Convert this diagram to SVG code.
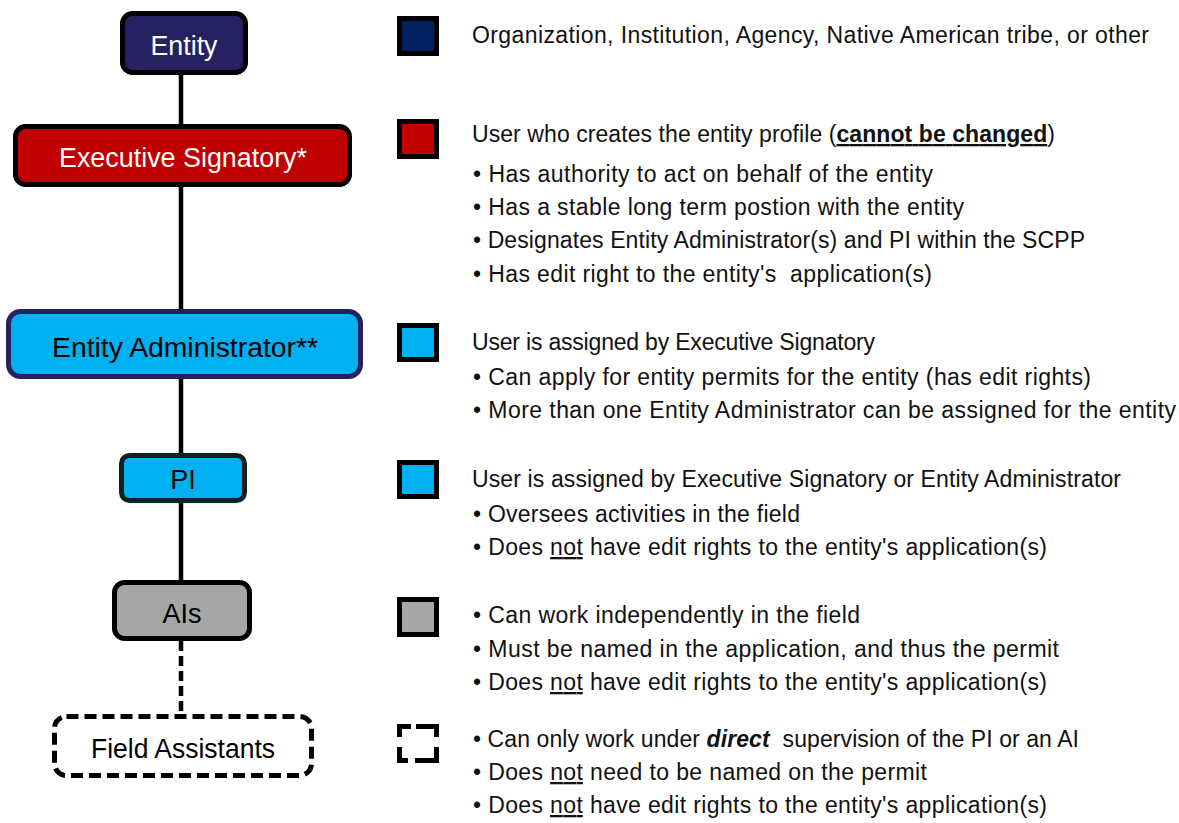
<svg xmlns="http://www.w3.org/2000/svg" width="1179" height="823" viewBox="0 0 1179 823">
<style>
.node{stroke-width:5}
.lbl{font-family:"Liberation Sans",Arial,sans-serif;font-size:27px;text-anchor:middle}
.t{font-family:"Liberation Sans",Arial,sans-serif;font-size:23px;fill:#111}
.u{text-decoration:underline}
.b{font-weight:bold}
.bi{font-weight:bold;font-style:italic}
.sq{stroke:#000;stroke-width:5}
.conn{stroke:#000;stroke-width:4.5;fill:none}
</style>
<rect width="1179" height="823" fill="#fff"/>
<g id="connectors">
<line class="conn" x1="181" y1="74" x2="181" y2="126"/>
<line class="conn" x1="181" y1="186" x2="181" y2="311"/>
<line class="conn" x1="181" y1="377" x2="181" y2="455"/>
<line class="conn" x1="181" y1="501" x2="181" y2="582"/>
<line class="conn" x1="181" y1="641" x2="181" y2="716" stroke="#0f2024" stroke-dasharray="10 5"/>
</g>
<g id="node-entity">
<rect class="node" x="122.5" y="13.5" width="123" height="59" rx="10" fill="#262262" stroke="#000"/>
<text class="lbl" x="184" y="55" fill="#fff" textLength="67" lengthAdjust="spacingAndGlyphs">Entity</text>
</g>
<g id="node-executive-signatory">
<rect class="node" x="15.5" y="126.5" width="334" height="58" rx="10" fill="#C00000" stroke="#000"/>
<text class="lbl" x="183" y="167" fill="#fff" textLength="248" lengthAdjust="spacingAndGlyphs">Executive Signatory*</text>
</g>
<g id="node-entity-administrator">
<rect class="node" x="8.5" y="311.5" width="352" height="65" rx="12" fill="#00B0F0" stroke="#262262"/>
<text class="lbl" x="185" y="357" fill="#000" textLength="266" lengthAdjust="spacingAndGlyphs">Entity Administrator**</text>
</g>
<g id="node-pi">
<rect class="node" x="121.5" y="455.5" width="123" height="45" rx="8" fill="#00B0F0" stroke="#102025"/>
<text class="lbl" x="183" y="489" fill="#000">PI</text>
</g>
<g id="node-ais">
<rect class="node" x="114.5" y="582.5" width="135" height="56" rx="10" fill="#A6A6A6" stroke="#000"/>
<text class="lbl" x="182" y="623" fill="#000">AIs</text>
</g>
<g id="node-field-assistants">
<rect class="node" x="54.5" y="716.5" width="257" height="59" rx="12" fill="#fff" stroke="#000" stroke-dasharray="12 6"/>
<text class="lbl" x="183" y="758" fill="#000" textLength="184" lengthAdjust="spacingAndGlyphs">Field Assistants</text>
</g>
<g id="legend">
<rect class="sq" x="399.5" y="18.5" width="37" height="35" fill="#002060"/>
<rect class="sq" x="399.5" y="121.5" width="37" height="35" fill="#C00000"/>
<rect class="sq" x="399.5" y="325.5" width="37" height="34" fill="#00B0F0"/>
<rect class="sq" x="399.5" y="462.5" width="37" height="34" fill="#00B0F0"/>
<rect class="sq" x="399.5" y="599.5" width="37" height="35" fill="#A6A6A6"/>
<g fill="none" stroke="#000" stroke-width="5">
<path d="M399.5,737 V726.5 H411"/>
<path d="M416,726.5 H436.5 V737"/>
<path d="M436.5,747 V760.5 H415"/>
<path d="M408,760.5 H399.5 V747"/>
</g>
</g>
<g id="descriptions">
<text class="t" x="472" y="43" textLength="677" lengthAdjust="spacing">Organization, Institution, Agency, Native American tribe, or other</text>
<text class="t" x="472" y="142" textLength="583" lengthAdjust="spacing">User who creates the entity profile (<tspan class="b u">cannot be changed</tspan>)</text>
<text class="t" x="473" y="182" textLength="460" lengthAdjust="spacing">• Has authority to act on behalf of the entity</text>
<text class="t" x="473" y="215" textLength="491" lengthAdjust="spacing">• Has a stable long term postion with the entity</text>
<text class="t" x="473" y="248" textLength="612" lengthAdjust="spacing">• Designates Entity Administrator(s) and PI within the SCPP</text>
<text class="t" x="473" y="282" textLength="459" lengthAdjust="spacing" xml:space="preserve">• Has edit right to the entity's  application(s)</text>
<text class="t" x="472" y="350" textLength="403" lengthAdjust="spacing">User is assigned by Executive Signatory</text>
<text class="t" x="473" y="385" textLength="618" lengthAdjust="spacing">• Can apply for entity permits for the entity (has edit rights)</text>
<text class="t" x="473" y="418" textLength="703" lengthAdjust="spacing">• More than one Entity Administrator can be assigned for the entity</text>
<text class="t" x="472" y="487" textLength="649" lengthAdjust="spacing">User is assigned by Executive Signatory or Entity Administrator</text>
<text class="t" x="473" y="522" textLength="327" lengthAdjust="spacing">• Oversees activities in the field</text>
<text class="t" x="473" y="555" textLength="574" lengthAdjust="spacing">• Does <tspan class="u">not</tspan> have edit rights to the entity's application(s)</text>
<text class="t" x="473" y="623" textLength="387" lengthAdjust="spacing">• Can work independently in the field</text>
<text class="t" x="473" y="657" textLength="586" lengthAdjust="spacing">• Must be named in the application, and thus the permit</text>
<text class="t" x="473" y="690" textLength="574" lengthAdjust="spacing">• Does <tspan class="u">not</tspan> have edit rights to the entity's application(s)</text>
<text class="t" x="473" y="747" textLength="606" lengthAdjust="spacing" xml:space="preserve">• Can only work under <tspan class="bi">direct</tspan>  supervision of the PI or an AI</text>
<text class="t" x="473" y="780" textLength="454" lengthAdjust="spacing">• Does <tspan class="u">not</tspan> need to be named on the permit</text>
<text class="t" x="473" y="813" textLength="574" lengthAdjust="spacing">• Does <tspan class="u">not</tspan> have edit rights to the entity's application(s)</text>
</g>
</svg>
